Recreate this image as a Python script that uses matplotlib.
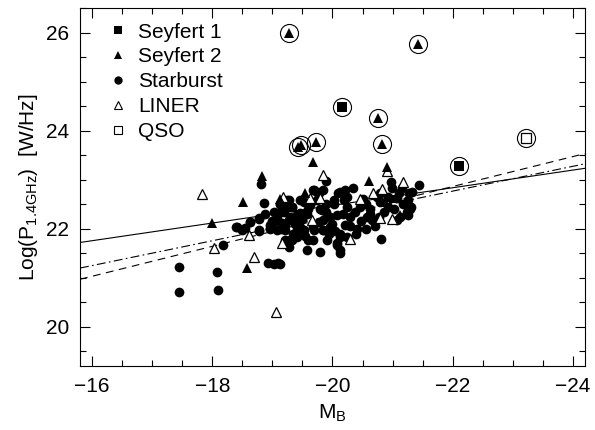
import numpy as np
import matplotlib
matplotlib.use('Agg')
import matplotlib.pyplot as plt
from matplotlib.lines import Line2D

plt.rcParams['font.family'] = ['Liberation Sans', 'DejaVu Sans']
plt.rcParams['mathtext.fontset'] = 'custom'
plt.rcParams['mathtext.rm'] = 'Liberation Sans'
plt.rcParams['mathtext.it'] = 'Liberation Sans'

# Seyfert 1 (filled squares)
sy1_mb = [-21.0]
sy1_p = [22.6]
sy1_circ_mb = [-20.16, -22.11]
sy1_circ_p = [24.49, 23.27]

# Seyfert 2 (filled triangles)
sy2_mb = [-17.99, -18.51, -18.83, -18.57, -19.67, -19.54, -19.13, -20.90,
          -20.61, -20.88, -21.13]
sy2_p = [22.11, 22.55, 23.07, 21.20, 23.35, 22.72, 22.60, 23.25,
         22.98, 22.55, 22.28]
sy2_circ_mb = [-19.27, -19.43, -19.72, -20.75, -20.83, -21.42]
sy2_circ_p = [25.99, 23.66, 23.76, 24.25, 23.72, 25.77]
sy2_dbl_mb = [-19.47]
sy2_dbl_p = [23.70]

# Starburst (filled circles)
sb_mb = [-18.81, -18.86, -18.39, -18.50, -18.62, -18.77, -18.78, -18.96,
         -18.18, -18.93, -19.02, -19.10, -19.13, -17.45, -18.08, -17.44, -18.09,
         -19.89, -20.97, -21.44, -20.79, -20.93, -21.07, -21.15, -21.32, -21.26,
         -21.29, -21.26, -21.12, -21.07, -20.80, -20.13, -20.07,
         -19.24, -19.32, -19.19, -19.27, -19.21, -19.35, -19.46, -19.41, -19.52,
         -19.63, -19.69, -19.74, -19.82, -19.77, -19.69, -19.60, -19.57, -19.80,
         -19.91, -19.85, -19.96, -20.02, -20.10, -20.21, -20.19, -20.24, -20.30,
         -20.35, -20.46, -20.41, -20.21, -20.13, -20.07, -20.13, -20.24, -20.55,
         -20.57, -20.55, -20.66, -20.74, -20.79, -20.63, -20.77, -21.10, -20.99,
         -21.27, -21.30, -21.24, -19.16, -19.21,
         -19.02, -19.13, -19.27, -19.32, -19.41, -19.49, -19.60, -19.74, -19.85,
         -19.90, -20.02, -20.13, -20.24, -20.07, -19.96, -20.13, -19.68, -19.41,
         -19.32, -19.21, -19.07, -19.21, -18.96, -19.27,
         -18.41, -18.55, -18.63, -18.77, -18.77, -18.96,
         -19.13, -19.13, -19.07, -19.24, -19.29, -19.46, -19.46, -19.68, -19.77,
         -19.65, -19.79, -19.85, -19.52, -19.29, -19.41, -19.68, -19.85,
         -19.05, -19.15, -19.38, -19.50, -19.58, -19.90, -20.00, -20.05, -20.18,
         -20.30, -20.38, -20.48, -20.62, -20.70, -20.85, -20.92, -21.02, -21.18,
         -19.35, -19.55, -19.95, -20.40, -20.50, -18.88, -19.00]
sb_p = [22.91, 22.53, 22.04, 21.97, 22.13, 22.20, 21.95, 22.00,
        21.67, 21.31, 21.29, 21.31, 21.29, 21.22, 21.12, 20.70, 20.74,
        22.97, 22.95, 22.90, 22.72, 22.65, 22.62, 22.82, 22.75, 22.58,
        22.41, 22.28, 22.24, 22.18, 21.80, 21.50, 21.67,
        22.58, 22.45, 22.34, 22.17, 21.97, 21.83, 22.04, 22.27, 22.55,
        22.48, 22.78, 22.58, 22.38, 22.14, 21.97, 21.77, 21.56, 21.53,
        21.77, 21.97, 22.24, 22.51, 22.72, 22.78, 22.58, 22.44, 22.24,
        22.82, 22.44, 22.00, 22.07, 21.84, 21.70, 21.56, 21.84, 22.51,
        22.24, 22.00, 22.17, 22.65, 22.55, 22.41, 22.24, 22.72, 22.82,
        22.72, 22.45, 22.34, 22.11, 21.77,
        22.34, 22.51, 22.58, 22.45, 22.28, 22.58, 22.41, 22.75, 22.79,
        22.51, 22.58, 22.75, 22.65, 22.28, 22.04, 21.90, 22.04, 21.97,
        21.77, 21.73, 22.24, 22.07, 22.07, 21.63,
        22.04, 22.01, 22.14, 22.21, 21.97, 22.01,
        22.51, 22.34, 21.97, 22.45, 22.24, 22.58, 22.31, 22.78, 22.72,
        22.55, 22.41, 22.17, 21.97, 21.77, 21.84, 21.77, 21.97,
        22.15, 22.00, 22.10, 22.20, 22.30, 22.35, 22.10, 21.95, 22.30,
        22.05, 22.35, 22.15, 22.30, 22.05, 22.35, 22.45, 22.40, 22.50,
        21.90, 21.85, 21.90, 21.90, 22.60, 22.30, 22.15]

# LINER (open triangles)
lin_mb = [-17.83, -18.03, -18.61, -18.70, -19.06, -19.85, -20.90, -21.18,
          -20.82, -20.68, -20.46, -20.99, -20.79, -20.29, -19.16, -19.17,
          -19.63, -19.79, -19.66]
lin_p = [22.70, 21.60, 21.87, 21.43, 20.30, 23.09, 23.18, 22.95,
         22.80, 22.73, 22.60, 22.20, 22.21, 21.80, 21.70, 22.65,
         22.62, 22.62, 22.17]

# QSO (open squares)
qso_circ_mb = [-23.22]
qso_circ_p = [23.84]

# linear fits: value at M_B = -20 and slope
fit_c = [22.475, 22.26, 22.25]
fit_s = [-0.18, -0.253, -0.305]
fit_ls = ['-', (0, (8, 3, 1.5, 3)), (0, (7, 5))]

fig = plt.figure(figsize=(5.95, 4.30), dpi=100)
ax = fig.add_axes([0.1345, 0.1488, 0.8485, 0.8326])

xl = np.array([-15.8, -24.2])
for c, s, ls in zip(fit_c, fit_s, fit_ls):
    ax.plot(xl, c + s * (xl + 20), color='black', lw=0.8, ls=ls)

ms = 7
ax.plot(sb_mb, sb_p, 'o', color='black', ms=ms, mew=0)
ax.plot(lin_mb, lin_p, '^', mfc='white', mec='black', ms=ms, mew=0.9)
ax.plot(sy2_mb, sy2_p, '^', color='black', ms=ms, mew=0)
ax.plot(sy1_mb, sy1_p, 's', color='black', ms=6, mew=0)

ax.plot(sy2_circ_mb, sy2_circ_p, '^', color='black', ms=ms, mew=0)
ax.plot(sy2_dbl_mb, sy2_dbl_p, '^', color='black', ms=ms, mew=0)
ax.plot(sy1_circ_mb, sy1_circ_p, 's', color='black', ms=7, mew=0)
ax.plot(qso_circ_mb, qso_circ_p, 's', mfc='white', mec='black', ms=7, mew=0.9)

circ_mb = sy2_circ_mb + sy2_dbl_mb + sy1_circ_mb + qso_circ_mb
circ_p = sy2_circ_p + sy2_dbl_p + sy1_circ_p + qso_circ_p
ax.plot(circ_mb, circ_p, 'o', mfc='none', mec='black', ms=13, mew=0.8)

ax.set_xlim(-15.8, -24.2)
ax.set_ylim(19.2, 26.5)
ax.set_xticks([-16, -18, -20, -22, -24])
ax.set_xticklabels(['\u221216', '\u221218', '\u221220', '\u221222', '\u221224'])
ax.set_xticks(np.arange(-16, -24.1, -0.5), minor=True)
ax.set_yticks([20, 22, 24, 26])
ax.set_yticks(np.arange(19.5, 26.6, 0.5), minor=True)
ax.tick_params(which='both', direction='in', top=True, right=True,
               labelsize=15, width=0.8, pad=8)
ax.tick_params(which='major', length=7)
ax.tick_params(which='minor', length=4)
for sp in ax.spines.values():
    sp.set_linewidth(0.8)

ax.set_xlabel('M$_\\mathrm{B}$', fontsize=15, labelpad=5)
ax.set_ylabel('Log(P$_\\mathrm{1.4GHz}$)  [W/Hz]', fontsize=15, labelpad=4)

handles = [
    Line2D([], [], ls='none', marker='s', color='black', ms=6, mew=0),
    Line2D([], [], ls='none', marker='^', color='black', ms=6, mew=0),
    Line2D([], [], ls='none', marker='o', color='black', ms=6, mew=0),
    Line2D([], [], ls='none', marker='^', mfc='white', mec='black', ms=6, mew=0.8),
    Line2D([], [], ls='none', marker='s', mfc='white', mec='black', ms=6, mew=0.8),
]
labels = ['Seyfert 1', 'Seyfert 2', 'Starburst', 'LINER', 'QSO']
ax.legend(handles, labels, loc='upper left', frameon=False, fontsize=15,
          handlelength=1.0, handletextpad=0.5, labelspacing=0.28,
          borderaxespad=0.3, bbox_to_anchor=(0.025, 1.0))

fig.savefig('out.png', dpi=100)
